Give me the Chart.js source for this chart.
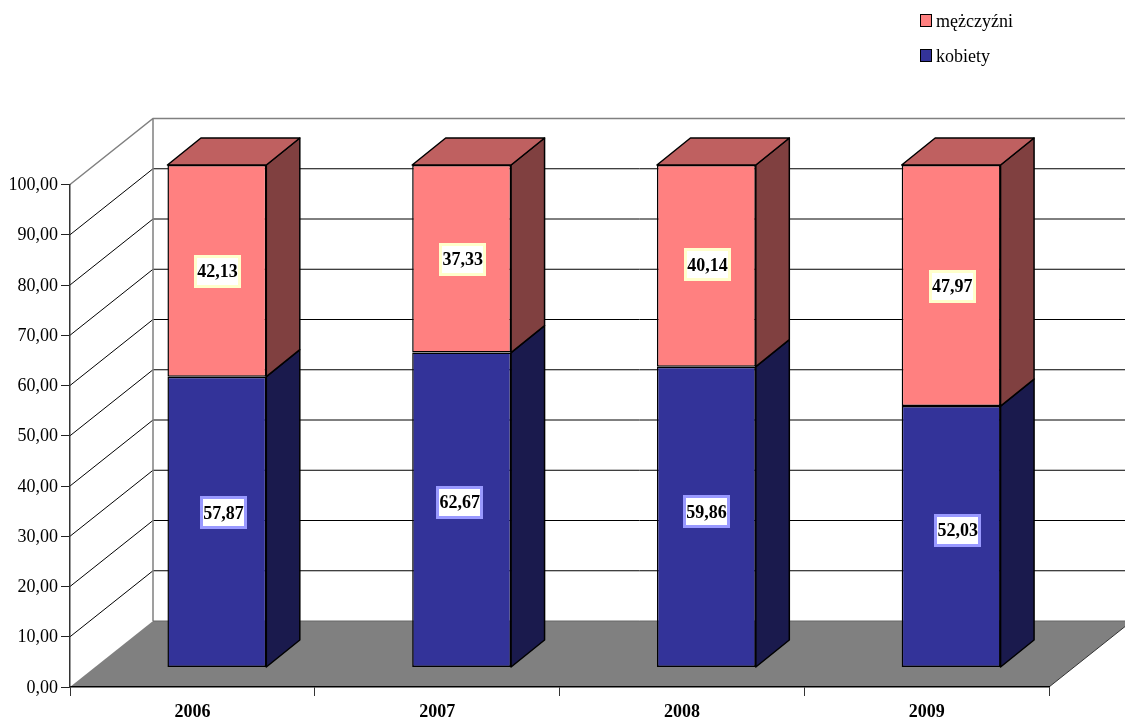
<!DOCTYPE html>
<html>
<head>
<meta charset="utf-8">
<style>html,body{margin:0;padding:0;background:#fff}canvas{display:block}</style>
<script src="https://cdn.jsdelivr.net/npm/chart.js@4"></script>
</head>
<body>
<canvas id="c" width="1125" height="721"></canvas>
<script>
const categories = ['2006', '2007', '2008', '2009'];
const kobiety = [57.87, 62.67, 59.86, 52.03];
const mezczyzni = [42.13, 37.33, 40.14, 47.97];
const kobietyLabel = 'kobiety';
const mezczyzniLabel = 'mężczyźni';
const yTickStep = 10;
const yMax = 100;

// hand placement of the value labels relative to each segment's centre
const labelNudgeKobiety = [[6.5, -9], [-2, -7.5], [0, -5], [6.5, -6]];
const labelNudgeMezczyzni = [[0.5, 0.5], [1, 1], [1, -1], [1, 0.5]];

const FONT = '"Liberation Serif","Times New Roman",serif';
const WALL = {dx: 83, dy: -66};      // back wall relative to front plane
const BAR = {dx: 24.5, dy: -19.5};   // bar front relative to front plane
const DEPTH = {dx: 33.5, dy: -27};   // bar depth

const fmt = v => v.toFixed(2).replace('.', ',');

const scene = {
  id: 'scene',
  beforeDraw(chart) {
    const {ctx, scales: {y}, chartArea: a} = chart;
    const W = chart.width;
    const y0 = y.getPixelForValue(0);
    ctx.save();
    ctx.lineWidth = 1;
    for (let v = yTickStep; v < yMax; v += yTickStep) {
      const p = y.getPixelForValue(v);
      ctx.strokeStyle = '#000';
      ctx.beginPath();
      ctx.moveTo(a.left, p);
      ctx.lineTo(a.left + WALL.dx, p + WALL.dy);
      ctx.lineTo(W + 10, p + WALL.dy);
      ctx.stroke();
    }
    const pt = y.getPixelForValue(yMax);
    ctx.strokeStyle = '#808080';
    ctx.lineWidth = 1.5;
    ctx.beginPath();
    ctx.moveTo(a.left, pt);
    ctx.lineTo(a.left + WALL.dx, pt + WALL.dy);
    ctx.lineTo(W + 10, pt + WALL.dy);
    ctx.moveTo(a.left + WALL.dx, pt + WALL.dy);
    ctx.lineTo(a.left + WALL.dx, y0 + WALL.dy);
    ctx.stroke();
    ctx.fillStyle = '#808080';
    ctx.beginPath();
    ctx.moveTo(a.left, y0);
    ctx.lineTo(a.left + WALL.dx, y0 + WALL.dy);
    ctx.lineTo(a.right + WALL.dx, y0 + WALL.dy);
    ctx.lineTo(a.right, y0);
    ctx.closePath();
    ctx.fill();
    ctx.strokeStyle = '#666';
    ctx.lineWidth = 1;
    ctx.beginPath();
    ctx.moveTo(a.left + WALL.dx, y0 + WALL.dy);
    ctx.lineTo(a.right + WALL.dx, y0 + WALL.dy);
    ctx.stroke();
    ctx.strokeStyle = '#333';
    ctx.beginPath();
    ctx.moveTo(a.right, y0);
    ctx.lineTo(a.right + WALL.dx, y0 + WALL.dy);
    ctx.stroke();
    ctx.restore();
  },
  beforeDatasetsDraw(chart) {
    const {ctx} = chart;
    ctx.save();
    ctx.lineWidth = 1.5;
    ctx.lineJoin = 'round';
    ctx.strokeStyle = '#000';
    const poly = (pts, fill) => {
      ctx.fillStyle = fill;
      ctx.beginPath();
      pts.forEach((p, i) => i ? ctx.lineTo(p[0], p[1]) : ctx.moveTo(p[0], p[1]));
      ctx.closePath();
      ctx.fill();
      ctx.stroke();
    };
    chart.data.datasets.forEach((ds, di) => {
      chart.getDatasetMeta(di).data.forEach(bar => {
        const r = bar.x + bar.width / 2 + BAR.dx, l = bar.x - bar.width / 2 + BAR.dx;
        const t = bar.y + BAR.dy, b = bar.base + BAR.dy;
        poly([[r, t], [r + DEPTH.dx, t + DEPTH.dy], [r + DEPTH.dx, b + DEPTH.dy], [r, b]], ds.sideColor);
        if (ds.topColor) {
          poly([[l, t], [l + DEPTH.dx, t + DEPTH.dy], [r + DEPTH.dx, t + DEPTH.dy], [r, t]], ds.topColor);
        }
      });
    });
    ctx.restore();
  },
  beforeDatasetDraw(chart) {
    chart.ctx.save();
    chart.ctx.translate(BAR.dx, BAR.dy);
  },
  afterDatasetDraw(chart) {
    chart.ctx.restore();
  },
  afterDatasetsDraw(chart) {
    const {ctx} = chart;
    ctx.save();
    ctx.font = 'bold 18px ' + FONT;
    ctx.textAlign = 'center';
    ctx.textBaseline = 'middle';
    chart.data.datasets.forEach((ds, di) => {
      chart.getDatasetMeta(di).data.forEach((bar, i) => {
        const n = ds.labelNudge[i];
        const cx = bar.x + BAR.dx + n[0];
        const cy = (bar.y + bar.base) / 2 + BAR.dy + n[1];
        ctx.fillStyle = ds.labelEdge;
        ctx.fillRect(Math.round(cx - 23.5), Math.round(cy - 16.5), 47, 33);
        ctx.fillStyle = '#fff';
        ctx.fillRect(Math.round(cx - 23.5) + 3, Math.round(cy - 16.5) + 3, 41, 27);
        ctx.fillStyle = '#000';
        ctx.fillText(fmt(ds.data[i]), cx, cy + 1);
      });
    });
    ctx.font = '18px ' + FONT;
    ctx.textAlign = 'left';
    const rows = [[1, 14], [0, 49]];
    rows.forEach(([di, top]) => {
      const ds = chart.data.datasets[di];
      ctx.fillStyle = ds.backgroundColor;
      ctx.fillRect(920.5, top + 0.5, 11, 12);
      ctx.strokeStyle = '#000';
      ctx.lineWidth = 1;
      ctx.strokeRect(920.5, top + 0.5, 11, 12);
      ctx.fillStyle = '#000';
      ctx.fillText(ds.label, 936, top + 8);
    });
    ctx.restore();
  }
};

new Chart(document.getElementById('c'), {
  type: 'bar',
  data: {
    labels: categories,
    datasets: [
      {label: kobietyLabel, data: kobiety, backgroundColor: '#333399', sideColor: '#1A1A4D',
       labelEdge: '#9999FF', labelNudge: labelNudgeKobiety},
      {label: mezczyzniLabel, data: mezczyzni, backgroundColor: '#FF8080', sideColor: '#804040',
       topColor: '#BF6060', labelEdge: '#FFFFCC', labelNudge: labelNudgeMezczyzni}
    ]
  },
  options: {
    responsive: false,
    animation: false,
    layout: {padding: {top: 184.5, right: 76, left: 0, bottom: 0}},
    datasets: {bar: {
      borderColor: '#000', borderWidth: 1.5, borderSkipped: false,
      barPercentage: 0.404, categoryPercentage: 1, clip: false
    }},
    plugins: {legend: {display: false}, tooltip: {enabled: false}},
    scales: {
      x: {
        stacked: true,
        afterFit(s) { s.height = 34; },
        grid: {drawOnChartArea: false, drawTicks: true, tickLength: 9, color: '#333', lineWidth: 1},
        border: {color: '#000', width: 1.5},
        ticks: {color: '#000', padding: 6, maxRotation: 0, font: {family: FONT, size: 18, weight: 'bold'}}
      },
      y: {
        stacked: true,
        min: 0,
        max: yMax,
        afterFit(s) { s.width = 70; },
        grid: {drawOnChartArea: false, drawTicks: true, tickLength: 9, color: '#222', lineWidth: 1},
        border: {color: '#333', width: 1.5},
        ticks: {color: '#000', stepSize: yTickStep, padding: 3, labelOffset: 1, font: {family: FONT, size: 18},
                callback: v => fmt(v)}
      }
    }
  },
  plugins: [scene]
});
</script>
</body>
</html>
